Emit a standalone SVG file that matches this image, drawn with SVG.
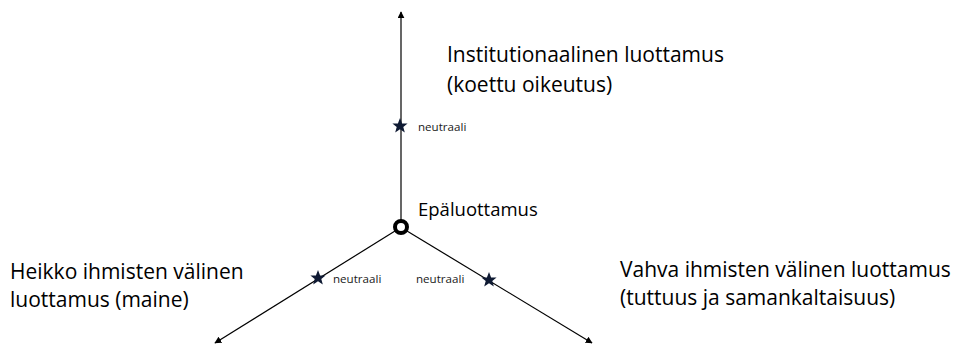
<svg xmlns="http://www.w3.org/2000/svg" width="956" height="347" viewBox="0 0 956 347">
<style>
.ax{stroke:#000;stroke-width:1.2;fill:none}
.t{font-family:"Open Sans","Liberation Sans",sans-serif;fill:#000}
.big{font-size:21px}
.mid{font-size:18.5px}
.sm{font-size:11.6px;fill:#1a1a1a}
.star{fill:#0f1a33}
</style>
<defs>
<marker id="ah" viewBox="0 0 10 10" refX="9" refY="5" markerWidth="7" markerHeight="7" markerUnits="userSpaceOnUse" orient="auto"><path d="M0,0 L10,5 L0,10 z" fill="#000"/></marker>
<polygon id="st" points="0,-8 2.1,-2.6 7.6,-2.5 3.3,1 4.8,6.5 0,3.3 -4.8,6.5 -3.3,1 -7.6,-2.5 -2.1,-2.6"/>
</defs>
<rect width="956" height="347" fill="#fff"/>
<g id="connectors">
<line class="ax" x1="401" y1="220" x2="401" y2="12" marker-end="url(#ah)"/>
<line class="ax" x1="395" y1="231" x2="215" y2="343" marker-end="url(#ah)"/>
<line class="ax" x1="407" y1="231" x2="592" y2="343" marker-end="url(#ah)"/>
</g>
<g id="center">
<circle cx="401" cy="227" r="6" fill="#fff" stroke="#000" stroke-width="4"/>
<text class="t mid" x="418" y="216">Epäluottamus</text>
</g>
<g id="top">
<text class="t big" x="447" y="62">Institutionaalinen luottamus</text>
<text class="t big" x="447" y="92">(koettu oikeutus)</text>
</g>
<g id="left">
<text class="t big" x="10" y="279">Heikko ihmisten välinen</text>
<text class="t big" x="10" y="307">luottamus (maine)</text>
</g>
<g id="right">
<text class="t big" x="620" y="277">Vahva ihmisten välinen luottamus</text>
<text class="t big" x="620" y="305">(tuttuus ja samankaltaisuus)</text>
</g>
<g id="neutral-top">
<use href="#st" class="star" x="400" y="126"/>
<text class="t sm" x="418" y="131">neutraali</text>
</g>
<g id="neutral-left">
<use href="#st" class="star" x="318" y="278"/>
<text class="t sm" x="333" y="283">neutraali</text>
</g>
<g id="neutral-right">
<use href="#st" class="star" x="489" y="280"/>
<text class="t sm" x="416" y="283">neutraali</text>
</g>
</svg>
